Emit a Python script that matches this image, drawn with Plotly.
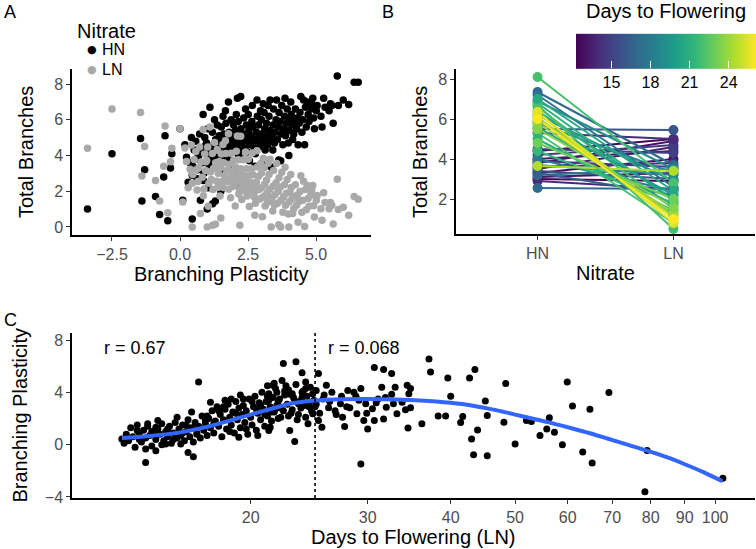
import numpy as np
import plotly.graph_objects as go
from plotly.colors import sample_colorscale, get_colorscale

FONT = "Liberation Sans, Arial, sans-serif"
W, H = 756, 549

# ---------------- Panel A: total branches vs branching plasticity ----------------
plasticity_a = [
    -3.4, -2.5, -1.45, -1.3, -1.4, -0.9, -0.75, -0.6, -0.45, -0.35,
    -0.3, -0.55, 0.0, 0.1, 0.3, 0.45, 0.6, 0.75, 0.85, 0.95,
    1.0, 1.1, 1.2, 1.3, 1.5, 2.2, 3.35, 3.7,
    0.18, 0.24, 0.37, 0.42, 0.45, 0.52, 0.47, 0.58, 0.63, 0.69,
    0.72, 0.66, 0.77, 0.82, 0.86, 0.91, 0.94, 0.88, 0.98,
    1.02, 1.06, 1.04, 1.12, 1.15, 1.19, 1.23, 1.21, 1.27, 1.31,
    1.34, 1.37, 1.41, 1.44, 1.39, 1.48, 1.52, 1.55, 1.47, 1.58,
    1.61, 1.64, 1.59, 1.67, 1.72, 1.69, 1.75, 1.78, 1.81, 1.84,
    1.79, 1.88, 1.91, 1.94, 1.97, 1.86,
    2.01, 2.04, 1.99, 2.07, 2.03, 2.12, 2.09, 2.14, 2.11, 2.16,
    2.21, 2.24, 2.19, 2.23, 2.31, 2.28, 2.34, 2.27, 2.42, 2.38,
    2.44, 2.41, 2.49, 2.53, 2.47, 2.51, 2.55, 2.62, 2.58, 2.64,
    2.71, 2.68, 2.73, 2.66, 2.75, 2.81, 2.78, 2.84, 2.83, 2.77,
    2.91, 2.88, 2.94, 2.96,
    3.01, 3.04, 2.99, 3.06, 3.03, 3.11, 3.14, 3.09, 3.13, 3.21,
    3.18, 3.24, 3.22, 3.29, 3.33, 3.27, 3.31, 3.42, 3.38, 3.44,
    3.41, 3.49, 3.53, 3.47, 3.55, 3.61, 3.58, 3.64, 3.63, 3.71,
    3.68, 3.74, 3.81, 3.78, 3.84, 3.86, 3.91, 3.88, 3.94,
    4.01, 4.04, 3.98, 4.07, 4.12, 4.09, 4.14, 4.21, 4.18, 4.24,
    4.31, 4.28, 4.34, 4.41, 4.38, 4.44, 4.51, 4.48, 4.54, 4.61,
    4.58, 4.64, 4.71, 4.68, 4.74, 4.81, 4.84, 4.91, 4.88, 4.94,
    5.01, 5.04, 5.18, 5.22, 5.28, 5.33, 5.48, 5.53, 5.58, 5.63,
    5.78, 5.82, 6.0, 6.2, 6.4, 6.55, 4.0,
]
hn_branches_a = [
    1.0, 4.1, 4.95, 3.2, 1.45, 1.7, 0.7, 2.8, 0.35, 3.3,
    4.1, 5.1, 5.5, 1.5, 2.5, 0.45, 3.8, 1.5, 6.3, 4.6,
    1.0, 6.7, 1.3, 1.45, 2.0, 2.3, 3.35, 3.7,
    4.6, 3.9, 3.6, 5.0, 2.9, 4.3, 3.4, 4.8, 2.7, 4.0,
    5.2, 3.2, 4.4, 3.6, 2.6, 5.0, 4.1, 3.0, 4.7,
    5.5, 3.5, 2.2, 4.2, 3.8, 5.3, 4.5, 3.3, 6.0, 4.9,
    3.9, 5.7, 4.4, 5.1, 3.6, 4.8, 5.6, 4.1, 3.2, 6.2,
    5.2, 4.5, 3.8, 6.5, 4.9, 5.8, 4.3, 7.0, 5.3, 4.6,
    3.9, 6.0, 5.0, 4.2, 5.7, 3.5,
    4.8, 5.4, 4.4, 6.3, 3.2, 5.1, 4.6, 5.9, 7.2, 4.0,
    4.9, 5.5, 4.3, 7.3, 5.2, 4.7, 6.1, 3.8, 5.0, 4.4,
    5.7, 6.6, 4.8, 5.4, 4.2, 6.3, 3.7, 5.1, 4.6, 5.9,
    4.9, 5.6, 4.4, 6.8, 3.4, 5.3, 4.8, 6.2, 7.1, 4.1,
    5.0, 5.7, 4.5, 6.5,
    5.2, 4.7, 6.0, 6.9, 3.6, 5.5, 4.9, 6.4, 4.3, 5.1,
    5.8, 6.8, 4.6, 5.4, 4.8, 6.2, 7.1, 5.7, 5.0, 6.6,
    4.3, 5.3, 6.0, 4.7, 7.1, 5.6, 4.9, 6.4, 3.75, 5.2,
    5.9, 6.8, 5.5, 4.6, 6.2, 7.2, 5.8, 5.1, 6.6,
    5.4, 6.0, 4.7, 7.0, 5.7, 6.3, 4.9, 5.9, 5.2, 6.6,
    6.1, 5.5, 4.6, 6.4, 5.8, 7.3, 6.0, 5.3, 7.1, 6.7,
    4.6, 5.6, 6.3, 7.0, 5.9, 6.6, 6.9, 6.1, 7.2, 5.5,
    6.5, 6.8, 6.2, 5.6, 7.2, 6.7, 6.5, 6.9, 6.8, 5.8,
    8.45, 6.8, 7.1, 6.85, 8.1, 8.1, 4.0,
]
# plasticity = HN - LN, so the LN value of each genotype follows from its pair
ln_branches_a = [round(h - p, 2) for h, p in zip(hn_branches_a, plasticity_a)]
r_labels_a = ["r = 0.65", "r = \u22120.57"]
x_ticks_a = [-2.5, 0.0, 2.5, 5.0]
x_ticktext_a = ["\u22122.5", "0.0", "2.5", "5.0"]
y_ticks_a = [0, 2, 4, 6, 8]
legend_title_a = "Nitrate"
legend_levels_a = ["HN", "LN"]
legend_colors_a = ["black", "#A9A9A9"]

# ---------------- Panel B: reaction norms coloured by days to flowering ----------------
nitrate_levels = ["HN", "LN"]
days_b = [12.3, 13.0, 12.8, 13.5, 14.0, 13.0, 14.5, 13.2, 14.8, 12.6,
          15.0, 13.8, 15.5, 14.0, 16.0, 17.0, 17.5, 16.5, 18.5, 17.0,
          17.5, 19.0, 18.0, 18.5, 19.5, 22.0, 21.0, 22.0, 20.5, 22.5,
          20.0, 22.0, 21.0, 21.5, 22.0, 20.0, 20.5, 25.0, 24.5, 25.5,
          24.0, 24.5, 23.5, 23.0, 26.1]
hn_b = [3.0, 3.1, 3.3, 3.5, 3.6, 3.8, 3.9, 4.0, 4.2, 4.4,
        4.5, 2.9, 3.4, 5.3, 5.5, 2.55, 3.2, 3.3, 3.7, 7.35,
        7.2, 6.9, 4.0, 5.8, 6.2, 8.1, 6.8, 6.6, 6.4, 6.0,
        5.6, 5.3, 5.0, 4.4, 6.7, 5.9, 7.0, 6.3, 6.1, 6.35,
        5.8, 3.65, 5.5, 4.8, 6.0]
ln_b = [2.9, 3.3, 4.0, 4.6, 3.8, 4.9, 3.6, 4.4, 4.7, 5.0,
        4.3, 2.5, 3.0, 5.0, 5.45, 2.5, 3.5, 2.2, 3.2, 3.7,
        2.6, 3.5, 2.4, 3.3, 2.9, 2.8, 1.9, 1.5, 2.0, 1.2,
        1.7, 0.8, 1.4, 1.8, 0.5, 2.2, 2.4, 1.0, 1.1, 0.8,
        1.3, 3.4, 1.6, 2.0, 1.0]
cbar_ticks = [15, 18, 21, 24]
y_ticks_b = [2, 4, 6, 8]

# ---------------- Panel C: branching plasticity vs days to flowering (LN) ----------------
days_c = [
    12.8, 12.9, 13.4, 13.5, 13.9, 13.9, 14.0, 14.4, 14.4, 14.5,
    14.9, 15.0, 15.5, 15.7, 16.1, 16.4, 16.7, 16.3, 17.1, 17.4,
    17.9, 18.3, 18.7, 19.2, 19.5, 20.5, 21.3, 21.2, 22.4, 23.4,
    23.9, 25.3, 23.3, 29.3, 30.7, 31.7, 32.6, 37.1, 37.3, 34.8,
    34.5, 36.2, 38.3, 39.3, 39.6, 40.0, 41.4, 41.7, 42.7, 43.0,
    43.3, 43.5, 43.9, 45.1, 45.4, 45.4, 48.1, 48.4,
    50.0, 52.0, 52.9, 54.5, 55.8, 56.3, 57.3, 58.9, 59.9, 61.0,
    63.2, 64.8, 65.3, 69.2, 78.4, 79.0, 102.7,
    21.6, 21.9, 21.3, 21.8, 22.2, 21.4, 22.6, 22.9, 22.9, 23.1,
    23.6, 23.9, 24.2, 24.2, 24.5, 24.8, 25.1, 25.3, 25.6, 25.7,
    26.0, 26.2, 26.5, 26.8, 27.3, 27.5, 27.7, 28.0, 28.2, 28.8,
    28.9, 29.3, 29.6, 29.8, 30.0, 30.5, 30.7, 31.1, 31.5, 31.7,
    32.0, 32.6, 32.8, 33.2, 33.8, 34.2, 34.4, 34.6, 34.8,
    13.0, 13.1, 13.2, 13.3, 13.5, 13.6, 13.7, 13.8, 13.9, 14.0,
    14.1, 14.2, 14.3, 14.4, 14.5, 14.6, 14.7, 14.8, 14.9, 15.0,
    15.1, 15.2, 15.3, 15.4, 15.5, 15.6, 15.7, 15.8, 15.9, 16.0,
    16.1, 16.2, 16.3, 16.4, 16.5, 16.6, 16.7, 16.8, 16.9, 17.0,
    17.1, 17.2, 17.3, 17.4, 17.5, 17.6, 17.7, 17.8, 17.9, 18.0,
    18.1, 18.2, 18.3, 18.4, 18.5, 18.6, 18.7, 18.8, 18.9, 19.0,
    19.1, 19.2, 19.3, 19.4, 19.5, 19.6, 19.7, 19.8, 19.9, 20.0,
    20.1, 20.2, 20.3, 20.4, 20.5, 20.6, 20.7, 20.8, 20.9, 21.0,
    21.1, 21.2, 21.3, 21.4, 21.5, 21.6, 21.7, 21.8, 21.9, 22.0,
    22.1, 22.3, 22.4, 22.5, 22.7, 22.8, 23.0, 23.2, 23.4, 23.5,
    23.7, 23.8, 24.0, 24.1, 24.3, 24.4, 24.6, 24.7, 24.9, 25.0,
    18.2, 18.6, 19.0, 19.3, 19.7, 20.1, 20.4, 20.7, 21.0, 21.2,
    21.5, 21.7, 22.0, 22.2, 22.5, 22.8, 23.1, 23.3, 23.6, 23.9,
    24.2, 24.5, 24.8, 25.1, 25.4, 25.8, 26.3, 26.9, 27.4, 27.9,
    28.6, 29.1, 29.9, 30.9, 31.9, 33.0, 13.6, 14.2, 15.3, 16.0,
    16.6, 17.2, 17.6, 15.8, 14.7,
]
plast_c = [
    0.44, 0.1, -0.2, 1.08, -0.33, -1.36, 1.6, -0.46, 1.33, 1.85,
    0.05, 1.2, 2.1, 0.05, -0.6, -0.92, 4.8, 2.5, 1.85, 3.25,
    2.6, 3.4, 3.5, 0.56, 3.5, 0.7, 1.08, 4.5, 6.2, 6.35,
    5.5, 5.45, 0.25, -1.48, 5.9, 5.75, 5.45, 6.55, 5.55, 4.3,
    1.28, 1.6, 2.2, 2.2, 5.1, 3.7, 1.7, 2.15, 5.1, 0.44,
    -0.77, 5.75, 1.13, 3.33, 2.23, -0.85, 1.72, 4.67,
    0.05, 1.85, 1.77, 0.7, 1.2, 2.05, 0.95, 0.0, 4.8, 2.95,
    -0.56, 2.7, -1.4, 3.98, -3.6, -0.45, -2.56,
    4.54, 4.0, 3.4, 2.75, 2.1, 1.33, 4.5, 3.85, 1.08, 2.67,
    3.13, 4.0, 4.8, 2.1, 3.25, 2.36, 4.15, 1.85, 1.33, 3.5,
    4.54, 2.82, 4.0, 2.6, 3.13, 2.1, 1.38, 4.15, 2.82, 3.7,
    2.36, 4.3, 1.85, 3.13, 1.2, 2.75, 1.85, 3.5, 4.4, 1.97,
    2.87, 3.85, 3.13, 2.36, 3.25, 2.67, 4.54, 3.9, 2.82,
    0.8, 0.3, 1.3, 0.6, 1.5, 0.9, 0.2, 1.1, 0.5, 1.4,
    0.7, -0.1, 1.0, 0.4, 1.2, 0.8, 1.6, 0.3, 1.0, 0.6,
    1.4, 0.1, 0.9, 1.7, 0.5, 1.2, 0.7, 1.5, 0.3, 1.0,
    1.9, 0.6, 1.3, 0.2, 1.7, 0.9, 1.4, 0.5, 2.2, 1.1,
    1.6, 0.7, 2.0, 1.3, 2.6, 0.9, 1.8, 2.9, 1.4, 2.3,
    0.6, 1.9, 2.7, 1.2, 3.1, 2.1, 1.5, 2.5, 0.9, 3.3,
    1.9, 2.8, 1.3, 2.3, 3.0, 1.7, 2.6, 0.8, 3.5, 2.1,
    1.5, 2.9, 3.7, 1.1, 2.4, 3.2, 1.9, 4.0, 2.7, 1.4,
    3.3, 2.2, 3.9, 2.9, 1.8, 3.6, 2.5, 4.3, 3.0, 2.0,
    3.5, 4.9, 2.6, 3.8, 3.1, 4.2, 2.4, 3.6, 4.6, 1.9,
    3.3, 2.8, 4.1, 3.0, 3.7, 1.6, 4.4, 2.6, 3.4, 2.9,
    2.9, 1.0, 2.4, 3.8, 1.2, 3.3, 2.7, 3.0, 2.3, 3.7,
    2.5, 4.7, 3.3, 2.8, 4.1, 2.2, 3.9, 3.4, 2.3, 3.6,
    4.3, 2.9, 3.9, 3.1, 2.4, 3.8, 3.3, 2.3, 3.7, 2.9,
    4.0, 3.4, 2.4, 3.2, 3.6, 4.4, 0.4, 1.0, 0.4, 1.5,
    0.8, 2.2, 1.6, 0.9, 0.0,
]
# smoothed fit
smooth_days = [12.8, 14, 15.5, 17, 18.5, 20, 21.5, 23, 25, 27.5, 30, 33, 36, 40,
               43, 47, 50, 53, 56, 60, 65, 69, 74, 79, 85, 90, 96, 102.5]
smooth_plast = [0.5, 0.65, 0.9, 1.3, 1.8, 2.3, 2.75, 3.15, 3.38, 3.48, 3.5, 3.46, 3.38,
                3.2, 3.0, 2.62, 2.3, 2.0, 1.72, 1.33, 0.85, 0.45, -0.02, -0.46, -1.0,
                -1.5, -2.1, -2.8]
split_day = 25
r_labels_c = ["r = 0.67", "r = 0.068"]
x_ticks_c = [20, 30, 40, 50, 60, 70, 80, 90, 100]
y_ticks_c = [-4, 0, 4, 8]
y_ticktext_c = ["\u22124", "0", "4", "8"]

# ---------------- styling ----------------
TICK_FONT = dict(family=FONT, size=16, color="#4D4D4D")
TITLE_SIZE = 20
ANN_SIZE = 18


def px_x(p):
    return p / W


def px_y(p):
    return 1 - p / H


def axis_style(**kw):
    d = dict(showline=True, linecolor="black", linewidth=1.5, showgrid=False,
             zeroline=False, ticks="outside", ticklen=4, tickwidth=1.2,
             tickcolor="#333333", tickfont=TICK_FONT, automargin=False, fixedrange=True)
    d.update(kw)
    return d


fig = go.Figure()

# Panel A
fig.add_trace(go.Scatter(x=plasticity_a, y=hn_branches_a, mode="markers", name="HN",
                         marker=dict(color=legend_colors_a[0], size=7.5), xaxis="x", yaxis="y",
                         cliponaxis=False, showlegend=False))
fig.add_trace(go.Scatter(x=plasticity_a, y=ln_branches_a, mode="markers", name="LN",
                         marker=dict(color=legend_colors_a[1], size=7.5), xaxis="x", yaxis="y",
                         cliponaxis=False, showlegend=False))

# Panel B
cmin, cmax = 12.28, 26.1
viridis = get_colorscale("Viridis")
fracs = [min(1.0, max(0.0, (d - cmin) / (cmax - cmin))) for d in days_b]
line_cols = sample_colorscale(viridis, fracs)
for d, h, l, c in zip(days_b, hn_b, ln_b, line_cols):
    fig.add_trace(go.Scatter(x=nitrate_levels, y=[h, l], mode="lines",
                             line=dict(color=c, width=2), showlegend=False,
                             hoverinfo="skip", xaxis="x2", yaxis="y2"))
fig.add_trace(go.Scatter(
    x=[nitrate_levels[0]] * len(hn_b) + [nitrate_levels[1]] * len(ln_b),
    y=hn_b + ln_b, mode="markers", showlegend=False, xaxis="x2", yaxis="y2",
    cliponaxis=False,
    marker=dict(size=10, color=days_b + days_b, colorscale="Viridis", cmin=cmin, cmax=cmax,
                showscale=True,
                colorbar=dict(orientation="h", x=px_x(576), xanchor="left",
                              y=px_y(99), yanchor="bottom", len=180 / W, lenmode="fraction",
                              xpad=0, ypad=0,
                              thickness=35, outlinewidth=0, tickvals=cbar_ticks,
                              ticks="inside", ticklen=7, tickcolor="white", tickwidth=1,
                              tickfont=dict(family=FONT, size=16, color="black"),
                              title=dict(text="Days to Flowering", side="top",
                                         font=dict(family=FONT, size=TITLE_SIZE, color="black"))))))

# Panel C
fig.add_trace(go.Scatter(x=days_c, y=plast_c, mode="markers", showlegend=False,
                         marker=dict(color="black", size=7), xaxis="x3", yaxis="y3",
                         cliponaxis=False))
fig.add_trace(go.Scatter(x=smooth_days, y=smooth_plast, mode="lines", showlegend=False,
                         line=dict(color="#3366FF", width=4, shape="spline", smoothing=0.8),
                         xaxis="x3", yaxis="y3"))
fig.add_shape(type="line", xref="x3", yref="y3 domain", x0=split_day, x1=split_day,
              y0=0, y1=1, line=dict(color="black", width=1.6, dash="dot"))

annotations = []


def text(x, y, s, size=TITLE_SIZE, xref="paper", yref="paper", xanchor="center",
         yanchor="middle", angle=0, color="black", family=FONT):
    annotations.append(dict(x=x, y=y, xref=xref, yref=yref, text=s, showarrow=False,
                            xanchor=xanchor, yanchor=yanchor, textangle=angle,
                            font=dict(family=family, size=size, color=color)))


# panel tags
text(px_x(10), px_y(12), "A", size=18)
text(px_x(388), px_y(12), "B", size=18)
text(px_x(10), px_y(320), "C", size=18)
# legend of panel A (Nitrate)
text(px_x(75), px_y(31), legend_title_a, xanchor="left")
for i, (lvl, col) in enumerate(zip(legend_levels_a, legend_colors_a)):
    yy = px_y(50 + 19 * i)
    text(px_x(92), yy, "\u25CF", size=11, color=col, family="DejaVu Sans")
    text(px_x(100), yy, lvl, size=16, xanchor="left")
# axis titles
text(px_x(221.5), px_y(274), "Branching Plasticity")
text(px_x(26), px_y(152), "Total Branches", angle=-90)
text(px_x(605.5), px_y(273), "Nitrate")
text(px_x(420), px_y(152), "Total Branches", angle=-90)
text(px_x(413.5), px_y(537), "Days to Flowering (LN)")
text(px_x(19), px_y(415.5), "Branching Plasticity", angle=-90)
# correlations
text(7.32, 4.59, r_labels_a[0], size=ANN_SIZE, xref="x", yref="y", xanchor="right")
text(7.32, 3.69, r_labels_a[1], size=ANN_SIZE, xref="x", yref="y", xanchor="right")
text(np.log10(13.4), 7.42, r_labels_c[0], size=ANN_SIZE, xref="x3", yref="y3")
text(np.log10(26.0), 7.42, r_labels_c[1], size=ANN_SIZE, xref="x3", yref="y3",
     xanchor="left")

fig.update_layout(
    width=W, height=H, margin=dict(l=0, r=0, t=0, b=0, autoexpand=False),
    paper_bgcolor="white", plot_bgcolor="white",
    font=dict(family=FONT, size=16, color="black"),
    showlegend=False,
    xaxis=axis_style(domain=[px_x(72), px_x(371)], range=[-3.97, 7.02],
                     tickvals=x_ticks_a, ticktext=x_ticktext_a, anchor="y"),
    yaxis=axis_style(domain=[px_y(235), px_y(69)], range=[-0.45, 8.84],
                     tickvals=y_ticks_a, anchor="x"),
    xaxis2=axis_style(domain=[px_x(456), px_x(755)], range=[-0.6, 1.6],
                      type="category", categoryorder="array", categoryarray=nitrate_levels,
                      anchor="y2"),
    yaxis2=axis_style(domain=[px_y(234), px_y(69)], range=[0.25, 8.5],
                      tickvals=y_ticks_b, anchor="x2"),
    xaxis3=axis_style(domain=[px_x(72), px_x(755)], type="log",
                      range=[np.log10(10.77), np.log10(114.8)],
                      tickvals=x_ticks_c, ticktext=[str(v) for v in x_ticks_c], anchor="y3"),
    yaxis3=axis_style(domain=[px_y(498), px_y(333)], range=[-4.08, 8.54],
                      tickvals=y_ticks_c, ticktext=y_ticktext_c, anchor="x3"),
    annotations=annotations,
)

fig.write_html("out.html", config={"displayModeBar": False},
               post_script="document.body.style.margin='0px';document.body.style.overflow='hidden';")
